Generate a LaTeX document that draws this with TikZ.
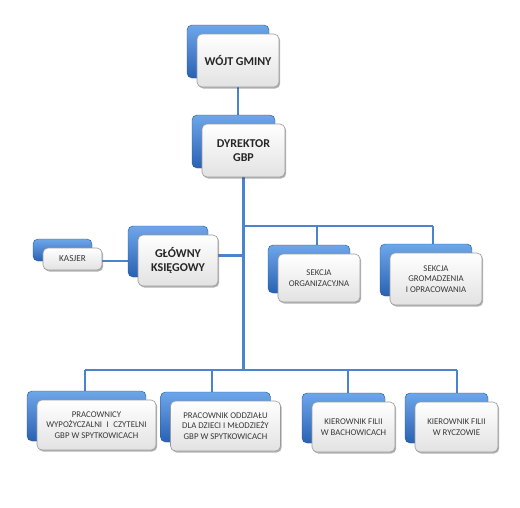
\documentclass[tikz,border=0pt]{standalone}
\usepackage{fontspec}
\setmainfont{Carlito}
\usetikzlibrary{shadows,backgrounds}
\definecolor{linecol}{HTML}{4A84D0}
\definecolor{bluetop}{HTML}{6EA6EA}
\definecolor{bluebot}{HTML}{2A62B4}
\definecolor{frontbot}{HTML}{E2E2E2}
\definecolor{frontbd}{HTML}{9A9A9A}
\definecolor{txtcol}{HTML}{262626}
\definecolor{smtxt}{HTML}{383838}
\tikzset{
  backbox/.style={rounded corners=5pt, top color=bluetop, bottom color=bluebot, draw=bluebot!85!black, line width=0.4pt, inner sep=0pt},
  frontbox/.style={rounded corners=5pt, top color=white, bottom color=frontbot, draw=frontbd, line width=0.6pt, inner sep=2pt, align=center, text=txtcol,
    drop shadow={shadow xshift=1.2pt, shadow yshift=-1.5pt, opacity=0.3, fill=black}},
  conn/.style={draw=linecol, line width=2.6pt},
  bigt/.style={font=\fontsize{12}{14}\selectfont\bfseries},
  smallt/.style={font=\fontsize{8.8}{10.5}\selectfont, text=smtxt},
}
\newcommand\obox[8]{%
  \node[backbox, minimum width=#4pt, minimum height=#5pt] (#1-b) at (#2-10, #3-9) {};
  \node[frontbox, minimum width=#4pt, minimum height=#5pt, #6] (#1) at (#2,#3) {#8};
}
\begin{document}
\begin{tikzpicture}[x=1pt,y=-1pt]
\useasboundingbox (0,0) rectangle (520,507);
\obox{wojt}{238}{60.5}{82}{53}{bigt}{}{WÓJT GMINY}
\obox{dyr}{243.5}{150.5}{83}{53}{bigt}{}{DYREKTOR\\GBP}
\obox{glo}{178}{260.5}{80}{51}{bigt}{}{GŁÓWNY\\KSIĘGOWY}
\obox{kas}{72.5}{259}{59}{22}{smallt, font=\fontsize{9.2}{10.5}\selectfont}{}{KASJER}
\obox{org}{319}{278}{82}{48}{smallt}{}{SEKCJA\\ORGANIZACYJNA}
\obox{grom}{436}{279}{92}{52}{smallt}{}{SEKCJA\\GROMADZENIA\\I OPRACOWANIA}
\obox{prac}{96.5}{425}{119}{50}{smallt}{}{PRACOWNICY\\WYPOŻYCZALNI\hspace{2.5pt} I\hspace{2.5pt} CZYTELNI\\GBP W SPYTKOWICACH}
\obox{oddz}{225.5}{426}{110}{50}{smallt}{}{PRACOWNIK ODDZIAŁU\\DLA DZIECI I MŁODZIEŻY\\GBP W SPYTKOWICACH}
\obox{bach}{353.5}{427}{83}{50}{smallt}{}{KIEROWNIK FILII\\W BACHOWICACH}
\obox{rycz}{456.5}{427}{83}{50}{smallt}{}{KIEROWNIK FILII\\W RYCZOWIE}
\coordinate (busT) at (243.5,226);
\coordinate (dOrg) at (317,226);
\coordinate (dGrom) at (433,226);
\coordinate (busB) at (243.5,370);
\coordinate (dPrac) at (85,370);
\coordinate (dOddz) at (212,370);
\coordinate (dBach) at (348,370);
\coordinate (dRycz) at (457,370);
\begin{scope}[on background layer]
  \fill[white] (0,0) rectangle (520,507);
  \draw[conn] (wojt.south) -- (wojt.south |- dyr-b.north);
  \draw[conn] (dyr.south) -- (busB);
  \draw[conn] (busT) -- (dGrom);
  \draw[conn] (dOrg) -- (dOrg |- org-b.north);
  \draw[conn] (dGrom) -- (dGrom |- grom-b.north);
  \draw[conn] ([yshift=5pt]glo.east) -- ([yshift=5pt]glo.east -| dyr.south);
  \draw[conn] ([yshift=-2pt]kas.east) -- ([yshift=-2pt]kas.east -| glo.west);
  \draw[conn] (dPrac) -- (dRycz);
  \draw[conn] (dPrac) -- (dPrac |- prac-b.north);
  \draw[conn] (dOddz) -- (dOddz |- oddz-b.north);
  \draw[conn] (dBach) -- (dBach |- bach-b.north);
  \draw[conn] (dRycz) -- (dRycz |- rycz-b.north);
\end{scope}
\end{tikzpicture}
\end{document}
